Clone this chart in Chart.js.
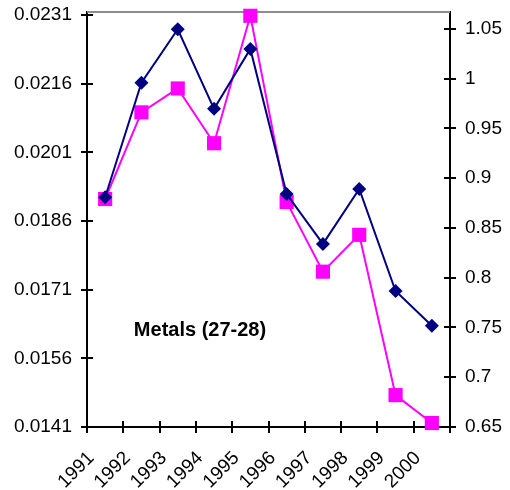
<!DOCTYPE html>
<html>
<head>
<meta charset="utf-8">
<script src="https://cdn.jsdelivr.net/npm/chart.js@4/dist/chart.umd.min.js"></script>
<style>
html,body{margin:0;padding:0;background:#fff;}
#wrap{width:510px;height:490px;}
</style>
</head>
<body>
<div id="wrap"><canvas id="c" width="510" height="490"></canvas></div>
<script>
const years = ['1991','1992','1993','1994','1995','1996','1997','1998','1999','2000'];
const leftSeries = [0.01912,0.02162,0.02279,0.02105,0.02236,0.01919,0.01810,0.01930,0.01707,0.01631];
const rightSeries = [0.879,0.966,0.990,0.935,1.063,0.876,0.806,0.843,0.682,0.654];
const leftTicks = [0.0141,0.0156,0.0171,0.0186,0.0201,0.0216,0.0231];
const rightTicks = [0.65,0.7,0.75,0.8,0.85,0.9,0.95,1,1.05];
const chartLabel = 'Metals (27-28)';

const FONT = "'Liberation Sans', Arial, sans-serif";

const extras = {
  id: 'extras',
  beforeDatasetsDraw(chart) {
    const {ctx, chartArea: a, scales} = chart;
    ctx.save();
    ctx.strokeStyle = '#8c8c8c';
    ctx.lineWidth = 2;
    ctx.beginPath(); ctx.moveTo(a.left, a.top); ctx.lineTo(a.right, a.top); ctx.stroke();
    ctx.strokeStyle = '#000';
    ctx.lineWidth = 2;
    ctx.beginPath();
    scales.yL.ticks.forEach(t => {
      const y = Math.round(scales.yL.getPixelForValue(t.value));
      ctx.moveTo(a.left, y); ctx.lineTo(a.left + 6, y);
    });
    scales.yR.ticks.forEach(t => {
      const y = Math.round(scales.yR.getPixelForValue(t.value));
      ctx.moveTo(a.right - 6, y); ctx.lineTo(a.right, y);
    });
    for (let i = 0; i <= years.length; i++) {
      const x = Math.round(scales.x.getPixelForValue(i - 0.5));
      ctx.moveTo(x, a.bottom); ctx.lineTo(x, a.bottom - 6);
    }
    ctx.stroke();
    ctx.fillStyle = '#000';
    ctx.font = 'bold 20px ' + FONT;
    ctx.textAlign = 'center';
    ctx.textBaseline = 'middle';
    ctx.fillText(chartLabel, 200, 330);
    ctx.restore();
  }
};

function noPad(s) { s.paddingTop = 0; s.paddingBottom = 0; s.paddingLeft = 0; s.paddingRight = 0; }

new Chart(document.getElementById('c'), {
  type: 'line',
  data: {
    labels: years,
    datasets: [
      {
        data: leftSeries, yAxisID: 'yL',
        borderColor: '#000080', backgroundColor: '#000080',
        borderWidth: 2, pointStyle: 'rectRot', pointRadius: 7, pointHoverRadius: 7,
        pointBorderWidth: 0, tension: 0, clip: false
      },
      {
        data: rightSeries, yAxisID: 'yR',
        borderColor: '#ff00ff', backgroundColor: '#ff00ff',
        borderWidth: 2, pointStyle: 'rect', pointRadius: 10, pointHoverRadius: 10,
        pointBorderWidth: 0, tension: 0, clip: false
      }
    ]
  },
  options: {
    responsive: false,
    animation: false,
    devicePixelRatio: 1,
    layout: {padding: {top: 12, left: 0, right: 0, bottom: 0}},
    plugins: {legend: {display: false}, tooltip: {enabled: false}, title: {display: false}},
    scales: {
      x: {
        type: 'category', offset: true,
        grid: {display: true, drawOnChartArea: false, offset: true, drawTicks: true, tickLength: 6, color: '#000', lineWidth: 2},
        border: {display: true, color: '#000', width: 2},
        ticks: {color: '#000', font: {family: FONT, size: 19}, minRotation: 45, maxRotation: 45, autoSkip: false, padding: 14, labelOffset: -14},
        afterFit(s) { s.height = 63; noPad(s); }
      },
      yL: {
        type: 'linear', position: 'left', min: 0.0141, max: 0.023166,
        grid: {display: true, drawOnChartArea: false, drawTicks: true, tickLength: 6, color: '#000', lineWidth: 2},
        border: {display: true, color: '#000', width: 2},
        afterBuildTicks(s) { s.ticks = leftTicks.map(v => ({value: v})); },
        ticks: {color: '#000', font: {family: FONT, size: 19}, padding: 9, callback: v => String(+v.toFixed(4))},
        afterFit(s) { s.width = 87; noPad(s); }
      },
      yR: {
        type: 'linear', position: 'right', min: 0.65, max: 1.0668,
        grid: {display: true, drawOnChartArea: false, drawTicks: true, tickLength: 6, color: '#000', lineWidth: 2},
        border: {display: true, color: '#000', width: 2},
        afterBuildTicks(s) { s.ticks = rightTicks.map(v => ({value: v})); },
        ticks: {color: '#000', font: {family: FONT, size: 19}, padding: 9, callback: v => String(+v.toFixed(2))},
        afterFit(s) { s.width = 60; noPad(s); }
      }
    }
  },
  plugins: [extras]
});
</script>
</body>
</html>
